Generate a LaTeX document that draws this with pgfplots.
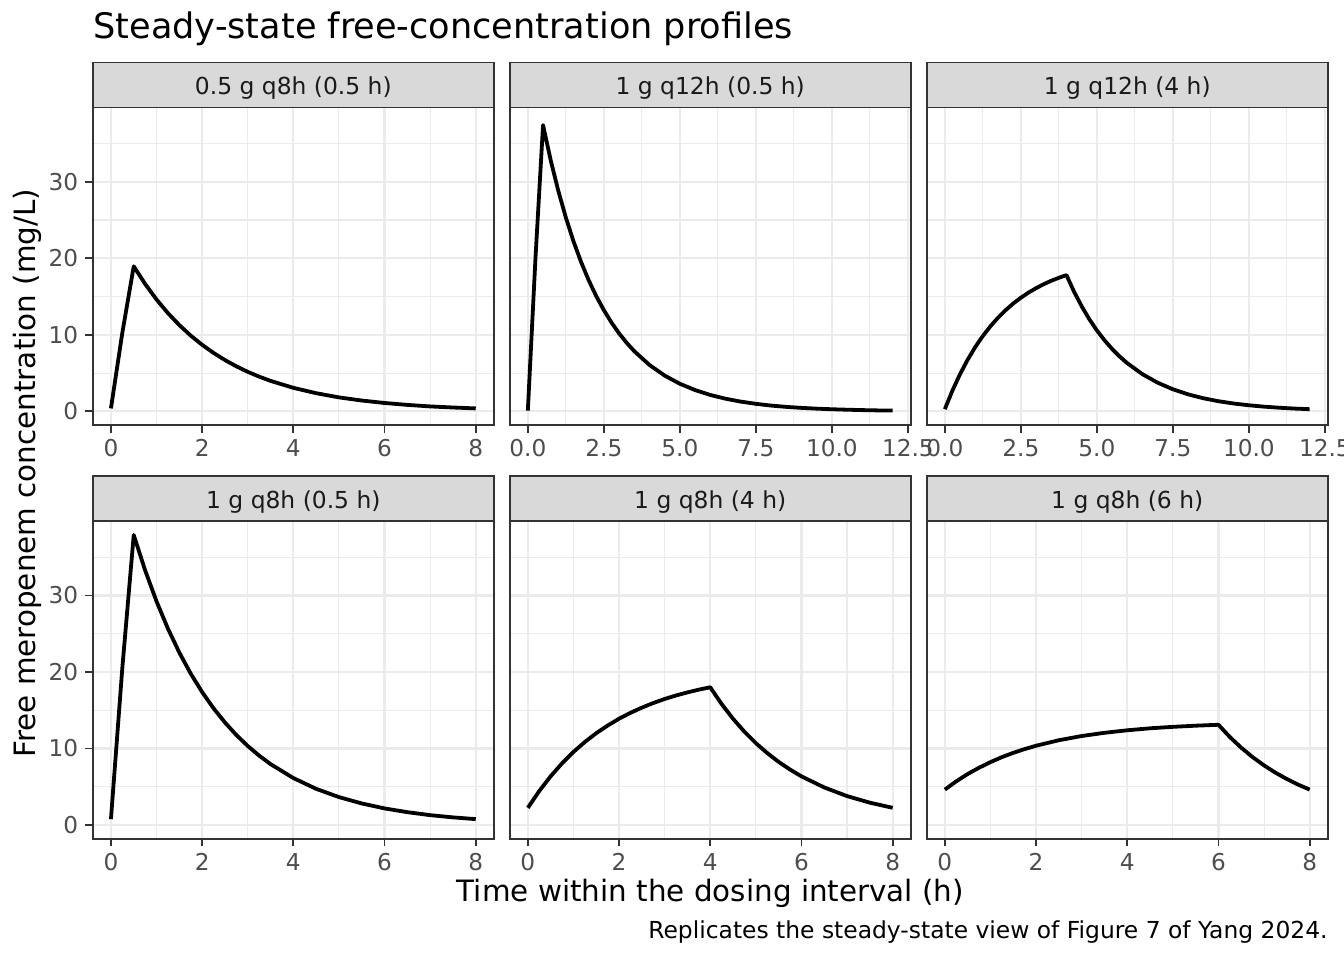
\documentclass[border=0pt]{standalone}
\usepackage{pgfplots}
\pgfplotsset{compat=1.18}
\usepackage{fontspec}
\setmainfont{DejaVu Sans}
\definecolor{grey20}{HTML}{333333}
\definecolor{grey30}{HTML}{4D4D4D}
\definecolor{grey85}{HTML}{D9D9D9}
\definecolor{grey92}{HTML}{EBEBEB}
\definecolor{grey10}{HTML}{1A1A1A}
\pgfplotsset{
 panel/.style={
  scale only axis, width=200.65pt, height=158.8pt, anchor=south west,
  clip=false,
  ymin=-1.8, ymax=39.7,
  ytick={0,10,20,30}, yticklabels={0,10,20,30}, minor ytick={5,15,25,35},
  grid=both,
  major grid style={draw=grey92, line width=1.1pt},
  minor grid style={draw=grey92, line width=0.55pt},
  axis line style={draw=grey20, line width=0.9pt},
  tick align=outside,
  major tick length=3.75pt, minor tick length=0pt,
  tick style={draw=grey20, line width=0.9pt},
  xtick pos=bottom, ytick pos=left,
  tick label style={font=\fontsize{11.6}{13}\selectfont, text=grey30},
  /pgf/number format/assume math mode=true,
 },
 eight/.style={xmin=-0.4,xmax=8.4, xtick={0,2,4,6,8}, xticklabels={0,2,4,6,8}, minor xtick={1,3,5,7}},
 twelve/.style={xmin=-0.6,xmax=12.6, xtick={0,2.5,5,7.5,10,12.5}, xticklabels={0.0,2.5,5.0,7.5,10.0,12.5}, minor xtick={1.25,3.75,6.25,8.75,11.25}},
 noy/.style={yticklabels={}, ytick style={draw=none}},
 curve/.style={black, line width=1.9pt, line join=round},
}
\newcommand{\strip}[1]{%
  \draw[fill=grey85, draw=grey20, line width=0.9pt] (rel axis cs:0,1) rectangle ([yshift=22.5pt]rel axis cs:1,1);
  \node[anchor=base, font=\fontsize{11.7}{13}\selectfont, text=grey10] at ([yshift=6.35pt]rel axis cs:0.5,1) {#1};
}
\begin{document}
\begin{tikzpicture}
\path[use as bounding box] (0,0) rectangle (672pt,480pt);
% Row 1
\begin{axis}[panel, eight, at={(46.35pt,267.45pt)}]
\addplot[curve] coordinates {(0,0.38)(0.25,10.27)(0.5,18.95)(0.75,16.64)(1,14.61)(1.25,12.83)(1.5,11.27)(1.75,9.89)(2,8.69)(2.25,7.63)(2.5,6.70)(2.75,5.88)(3,5.16)(3.25,4.53)(3.5,3.98)(4,3.07)(4.5,2.37)(5,1.82)(5.5,1.41)(6,1.09)(6.5,0.84)(7,0.64)(7.5,0.50)(8,0.38)};
\strip{0.5 g q8h (0.5 h)}
\end{axis}
\begin{axis}[panel, twelve, noy, at={(254.8pt,267.45pt)}]
\addplot[curve] coordinates {(0,0.095)(0.25,19.95)(0.5,37.4)(0.75,32.84)(1,28.84)(1.25,25.32)(1.5,22.23)(1.75,19.52)(2,17.14)(2.25,15.05)(2.5,13.22)(2.75,11.61)(3,10.19)(3.25,8.95)(3.5,7.86)(4,6.06)(4.5,4.67)(5,3.60)(5.5,2.78)(6,2.14)(6.5,1.65)(7,1.27)(7.5,0.98)(8,0.75)(8.5,0.58)(9,0.45)(9.5,0.35)(10,0.27)(10.5,0.21)(11,0.16)(11.5,0.12)(12,0.095)};
\strip{1 g q12h (0.5 h)}
\end{axis}
\begin{axis}[panel, twelve, noy, at={(463.3pt,267.45pt)}]
\addplot[curve] coordinates {(0,0.28)(0.25,2.72)(0.5,4.86)(0.75,6.74)(1,8.40)(1.25,9.85)(1.5,11.12)(1.75,12.24)(2,13.22)(2.25,14.09)(2.5,14.84)(2.75,15.51)(3,16.09)(3.25,16.61)(3.5,17.06)(3.75,17.45)(4,17.80)(4.25,15.63)(4.5,13.73)(4.75,12.05)(5,10.58)(5.25,9.29)(5.5,8.16)(5.75,7.16)(6,6.29)(6.5,4.85)(7,3.74)(7.5,2.88)(8,2.22)(8.5,1.71)(9,1.32)(9.5,1.02)(10,0.79)(10.5,0.61)(11,0.47)(11.5,0.36)(12,0.28)};
\strip{1 g q12h (4 h)}
\end{axis}
% Row 2
\begin{axis}[panel, eight, at={(46.35pt,60.6pt)}]
\addplot[curve] coordinates {(0,0.77)(0.25,20.54)(0.5,37.9)(0.75,33.28)(1,29.22)(1.25,25.66)(1.5,22.53)(1.75,19.78)(2,17.37)(2.25,15.25)(2.5,13.40)(2.75,11.76)(3,10.33)(3.25,9.07)(3.5,7.96)(4,6.14)(4.5,4.73)(5,3.65)(5.5,2.82)(6,2.17)(6.5,1.68)(7,1.29)(7.5,1.00)(8,0.77)};
\strip{1 g q8h (0.5 h)}
\end{axis}
\begin{axis}[panel, eight, noy, at={(254.8pt,60.6pt)}]
\addplot[curve] coordinates {(0,2.25)(0.25,4.44)(0.5,6.37)(0.75,8.06)(1,9.55)(1.25,10.85)(1.5,12.00)(1.75,13.00)(2,13.89)(2.25,14.66)(2.5,15.34)(2.75,15.94)(3,16.47)(3.25,16.93)(3.5,17.33)(3.75,17.69)(4,18.00)(4.25,15.81)(4.5,13.88)(4.75,12.19)(5,10.70)(5.25,9.40)(5.5,8.25)(5.75,7.25)(6,6.36)(6.5,4.91)(7,3.78)(7.5,2.92)(8,2.25)};
\strip{1 g q8h (4 h)}
\end{axis}
\begin{axis}[panel, eight, noy, at={(463.3pt,60.6pt)}]
\addplot[curve] coordinates {(0,4.63)(0.25,5.71)(0.5,6.66)(0.75,7.49)(1,8.22)(1.25,8.87)(1.5,9.43)(1.75,9.92)(2,10.36)(2.5,11.08)(3,11.63)(3.5,12.05)(4,12.38)(4.5,12.64)(5,12.83)(5.5,12.98)(6,13.10)(6.25,11.50)(6.5,10.10)(6.75,8.87)(7,7.79)(7.25,6.84)(7.5,6.01)(7.75,5.27)(8,4.63)};
\strip{1 g q8h (6 h)}
\end{axis}
% Titles
\node[anchor=base west, font=\fontsize{17.55}{20}\selectfont, inner sep=0pt] at (46.5pt,460.5pt) {Steady-state free-concentration profiles};
\node[anchor=base, rotate=90, font=\fontsize{14.7}{17}\selectfont, inner sep=0pt] at (17.5pt,243.4pt) {Free meropenem concentration (mg/L)};
\node[anchor=base, font=\fontsize{14.7}{17}\selectfont, inner sep=0pt] at (355.2pt,29.15pt) {Time within the dosing interval (h)};
\node[anchor=base east, font=\fontsize{11.7}{13}\selectfont, inner sep=0pt] at (664pt,10.85pt) {Replicates the steady-state view of Figure 7 of Yang 2024.};
\end{tikzpicture}
\end{document}
